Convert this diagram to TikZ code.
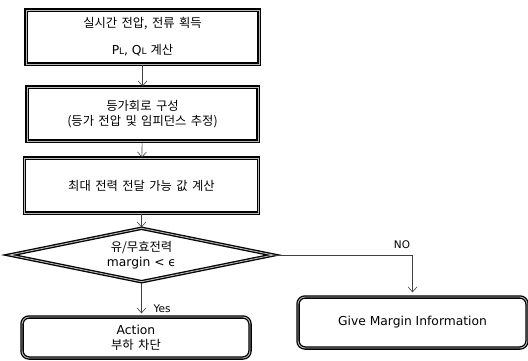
\documentclass[tikz,border=0pt]{standalone}
\usepackage{fontspec}
\setmainfont{DejaVu Sans}
\newfontfamily\kr[WordSpace=1.6]{Noto Sans CJK KR}
\usetikzlibrary{shapes.geometric,arrows.meta}
\begin{document}
\begin{tikzpicture}[x=1pt,y=-1pt,
    every node/.style={font=\fontsize{12.3}{15}\selectfont},
    stepbox/.style={draw=black,line width=1.3pt,double=gray!55,double distance=.9pt,
      fill=white,inner sep=0pt,align=center},
    endbox/.style={stepbox,rounded corners=7pt},
    testbox/.style={stepbox,shape=diamond,aspect=4.85},
    flow/.style={draw=black!75,line width=.6pt,
      -{Straight Barb[length=5pt,width=9pt]}}]
  \useasboundingbox (0,0) rectangle (528,360);
  % process steps
  \node[stepbox,minimum width=233pt,minimum height=54pt] (get) at (142.5,37)
    {{\kr 실시간 전압, 전류 획득}\\[12pt]P{\fontsize{9}{9}\selectfont L}, Q{\fontsize{9}{9}\selectfont L} {\kr 계산}};
  \node[stepbox,minimum width=231pt,minimum height=54pt] (equiv) at (142.5,114)
    {\kr 등가회로 구성\\\kr (등가 전압 및 임피던스 추정)};
  \node[stepbox,minimum width=234pt,minimum height=55pt] (pmax) at (141.5,185.5)
    {\kr 최대 전력 전달 가능 값 계산};
  \node[testbox,minimum width=264pt,minimum height=54pt] (test) at (141.5,255)
    {{\kr 유/무효전력}\\margin < ϵ};
  % results
  \node[endbox,minimum width=228pt,minimum height=41pt] (act) at (136,337.5)
    {Action\\\kr 부하 차단};
  \node[endbox,minimum width=229pt,minimum height=51pt] (info) at (412.5,322.5)
    {Give Margin Information};
  % connectors
  \draw[flow] (get) -- (equiv);
  \draw[flow] (equiv) -- (pmax);
  \draw[flow] (pmax.south) -- (test.north);
  \draw[flow,shorten >=3pt] (test.south) -- (test.south |- act.north);
  \draw[flow,shorten >=4pt] (test.east) -| (info.north);
  \node (yes) at (162,309) {\fontsize{10.5}{12}\selectfont Yes};
  \node (no) at (402,245) {\fontsize{10.5}{12}\selectfont NO};
\end{tikzpicture}
\end{document}
